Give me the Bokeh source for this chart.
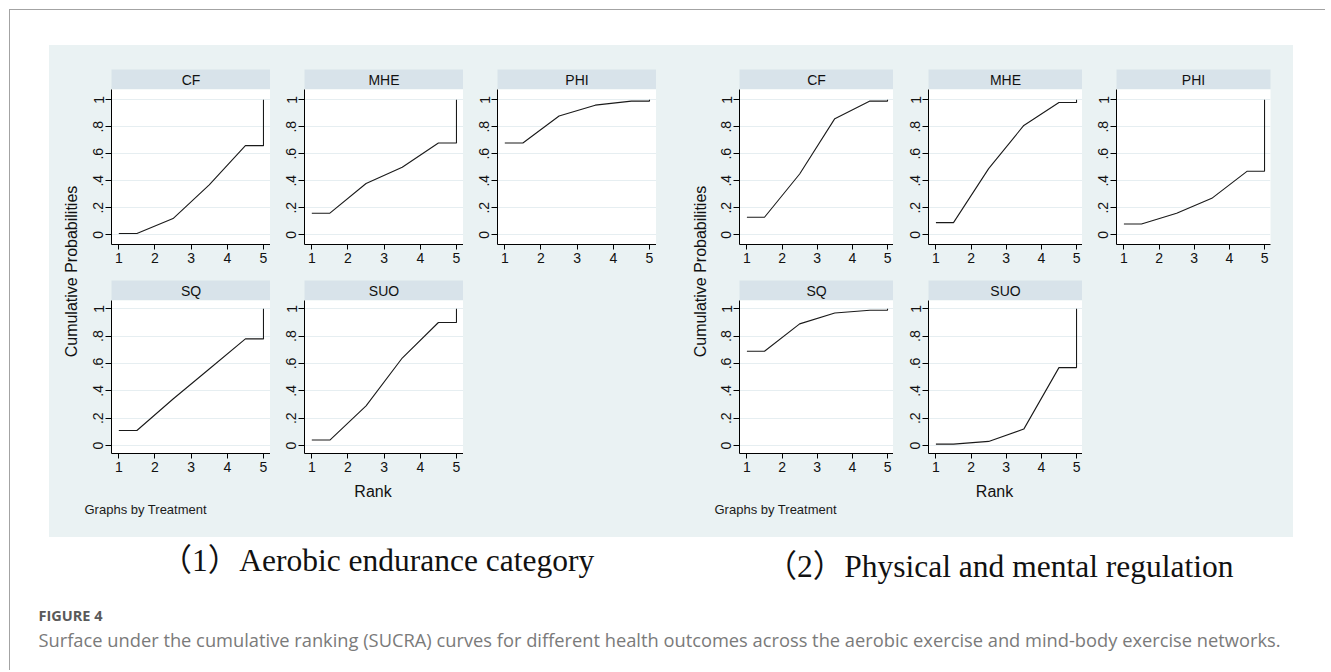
import math
from bokeh.plotting import figure
from bokeh.layouts import column, row
from bokeh.models import Range1d, FixedTicker, Spacer, Label
from bokeh.core.properties import value
from bokeh.embed import file_html
from bokeh.resources import INLINE

# ---------------- data ----------------
ranks = [1, 2, 3, 4, 5]
outcomes = ["CF", "MHE", "PHI", "SQ", "SUO"]

# (1) Aerobic endurance category: cumulative ranking probabilities by rank
aer_CF = [0.01, 0.12, 0.37, 0.66, 1.00]
aer_MHE = [0.16, 0.38, 0.50, 0.68, 1.00]
aer_PHI = [0.68, 0.88, 0.96, 0.99, 1.00]
aer_SQ = [0.11, 0.34, 0.56, 0.78, 1.00]
aer_SUO = [0.04, 0.29, 0.64, 0.90, 1.00]

# (2) Physical and mental regulation
mb_CF = [0.13, 0.45, 0.86, 0.99, 1.00]
mb_MHE = [0.09, 0.49, 0.81, 0.98, 1.00]
mb_PHI = [0.08, 0.16, 0.27, 0.47, 1.00]
mb_SQ = [0.69, 0.89, 0.97, 0.99, 1.00]
mb_SUO = [0.01, 0.03, 0.12, 0.57, 1.00]

y_ticks = [0, 0.2, 0.4, 0.6, 0.8, 1]
y_tick_labels = ["0", ".2", ".4", ".6", ".8", "1"]

y_title = "Cumulative Probabilities"
x_title = "Rank"
by_note = "Graphs by Treatment"
caption_1 = "（1）Aerobic endurance category"
caption_2 = "（2）Physical and mental regulation"
fig_label = "FIGURE 4"
fig_caption = ("Surface under the cumulative ranking (SUCRA) curves for different health "
               "outcomes across the aerobic exercise and mind-body exercise networks.")

# ---------------- style ----------------
BG = "#EAF2F3"
STRIP = "#D8E3EA"
GRID = "#E6EEF1"
FONT = "Liberation Sans"
SERIF = "Liberation Serif, Noto Sans CJK SC"
CAPFONT = "Open Sans"


def sucra_path(cum):
    xs = [ranks[0]] + [r - 0.5 for r in ranks[1:]] + [ranks[-1], ranks[-1]]
    ys = [cum[0]] + cum[:-1] + [cum[-2], cum[-1]]
    return xs, ys


def strip_fig(name, L, F, R, top):
    s = figure(width=L + F + R, height=20 + top, x_range=Range1d(0, 1), y_range=Range1d(0, 1),
               x_axis_type=None, y_axis_type=None, toolbar_location=None,
               output_backend="svg", min_border=0, min_border_left=L, min_border_right=R,
               min_border_top=top, min_border_bottom=0, title_location=None,
               background_fill_color=STRIP, border_fill_color=BG, outline_line_color=None)
    s.add_layout(Label(x=0.5, y=0.5, text=name, text_align="center", text_baseline="middle",
                       text_font=FONT, text_font_size="14px", text_color="#111111"))
    return s


def panel_fig(cum, L, F, R, fh, bottom, xr, yr):
    p = figure(width=L + F + R, height=fh + bottom, x_range=Range1d(*xr), y_range=Range1d(*yr),
               toolbar_location=None, output_backend="svg", min_border=0,
               min_border_left=L, min_border_right=R, min_border_top=0, min_border_bottom=bottom,
               title_location=None, background_fill_color="white", border_fill_color=BG,
               outline_line_color=None)
    xs, ys = sucra_path(cum)
    p.line(xs, ys, line_color="#1a1a1a", line_width=1.1)
    p.xaxis.ticker = FixedTicker(ticks=ranks)
    p.yaxis.ticker = FixedTicker(ticks=y_ticks)
    p.yaxis.major_label_overrides = dict(zip(y_ticks, y_tick_labels))
    p.yaxis.major_label_orientation = "vertical"
    for ax in (p.xaxis, p.yaxis):
        ax.axis_line_color = "black"
        ax.axis_line_width = 1
        ax.major_tick_line_color = "black"
        ax.major_tick_in = 0
        ax.minor_tick_line_color = None
        ax.major_label_text_font = FONT
        ax.major_label_text_font_size = "14px"
        ax.major_label_text_color = "#111111"
    p.xaxis.major_tick_out = 5
    p.yaxis.major_tick_out = 6
    p.xaxis.major_label_standoff = 3
    p.yaxis.major_label_standoff = 2
    p.xgrid.visible = False
    p.ygrid.ticker = FixedTicker(ticks=y_ticks)
    p.ygrid.grid_line_color = GRID
    p.ygrid.grid_line_width = 1
    return p


def group(data, Ls, F, Rs, xr, yt_w, yt_x, rank_x, note_x):
    r1 = (155, 36, (-0.072, 1.076))
    r2 = (153, 28, (-0.0585, 1.061))
    cols = []
    for i in range(3):
        L, R = Ls[i], Rs[i]
        items = [strip_fig(outcomes[i], L, F, R, 24),
                 panel_fig(data[i], L, F, R, r1[0], r1[1], xr, r1[2])]
        if i + 3 < len(outcomes):
            items += [strip_fig(outcomes[i + 3], L, F, R, 0),
                      panel_fig(data[i + 3], L, F, R, r2[0], r2[1], xr, r2[2])]
        else:
            items += [Spacer(width=L + F + R, height=20 + r2[0] + r2[1],
                             styles={"background-color": BG})]
        cols.append(column(*items, spacing=0))
    inner_w = sum(Ls) + 3 * F + sum(Rs)
    foot_h = 56
    foot = figure(width=inner_w, height=foot_h, x_range=Range1d(0, inner_w),
                  y_range=Range1d(0, foot_h), x_axis_type=None, y_axis_type=None,
                  toolbar_location=None, output_backend="svg", min_border=0,
                  title_location=None, background_fill_color=BG, border_fill_color=BG,
                  outline_line_color=None)
    foot.add_layout(Label(x=rank_x, y=foot_h - 10, text=x_title, text_align="center",
                          text_baseline="middle", text_font=FONT, text_font_size="16px",
                          text_color="#111111"))
    foot.add_layout(Label(x=note_x, y=foot_h - 28, text=by_note, text_align="left",
                          text_baseline="middle", text_font=FONT, text_font_size="13px",
                          text_color="#1a1a1a"))
    H = 24 + 20 + r1[0] + r1[1] + 20 + r2[0] + r2[1] + foot_h
    yt = figure(width=yt_w, height=H, x_range=Range1d(0, yt_w), y_range=Range1d(0, H),
                x_axis_type=None, y_axis_type=None, toolbar_location=None,
                output_backend="svg", min_border=0, title_location=None,
                background_fill_color=BG, border_fill_color=BG, outline_line_color=None)
    yt.add_layout(Label(x=yt_x, y=H - 226, text=y_title, angle=math.pi / 2,
                        text_align="center", text_baseline="middle", text_font=FONT,
                        text_font_size="16px", text_color="#111111"))
    body = column(row(*cols, spacing=0), foot, spacing=0, styles={"background-color": BG})
    return row(yt, body, spacing=0, styles={"background-color": BG})


left = group([aer_CF, aer_MHE, aer_PHI, aer_SQ, aer_SUO], [28, 34, 34], 159, [0, 0, 0],
             (0.798, 5.194), 34, 22, 289.5, 1)
right = group([mb_CF, mb_MHE, mb_PHI, mb_SQ, mb_SUO], [28, 35, 34], 154, [0, 0, 23],
              (0.789, 5.17), 55, 44, 283, 3)

W = 1315
cap_h = 133
cap = figure(width=W, height=cap_h, x_range=Range1d(0, W), y_range=Range1d(0, cap_h),
             x_axis_type=None, y_axis_type=None, toolbar_location=None, output_backend="svg",
             min_border=0, title_location=None, background_fill_color="white",
             border_fill_color="white", outline_line_color=None)
cap.add_layout(Label(x=150, y=cap_h - 23, text=caption_1, text_font=SERIF,
                     text_font_size="31.5px", text_color="#111111", text_baseline="alphabetic"))
cap.add_layout(Label(x=755, y=cap_h - 29, text=caption_2, text_font=SERIF,
                     text_font_size="31.5px", text_color="#111111", text_baseline="alphabetic"))
cap.add_layout(Label(x=28, y=cap_h - 78, text=fig_label, text_font=CAPFONT,
                     text_font_size="14.5px", text_font_style="bold", text_color="#5a5a5a",
                     text_baseline="alphabetic"))
cap.add_layout(Label(x=28, y=cap_h - 102, text=fig_caption, text_font=CAPFONT,
                     text_font_size="18.3px", text_color="#7a7a7a", text_baseline="alphabetic"))

framed = column(
    Spacer(width=W, height=35),
    row(Spacer(width=39, height=492), left, right, Spacer(width=30, height=492), spacing=0),
    cap,
    spacing=0,
    styles={"border-top": "1px solid #a3a3a3", "border-left": "1px solid #a3a3a3"},
)

root = column(Spacer(width=1320, height=9), row(Spacer(width=9, height=660), framed, spacing=0),
              spacing=0)

open("out.html", "w").write(file_html(root, INLINE))
